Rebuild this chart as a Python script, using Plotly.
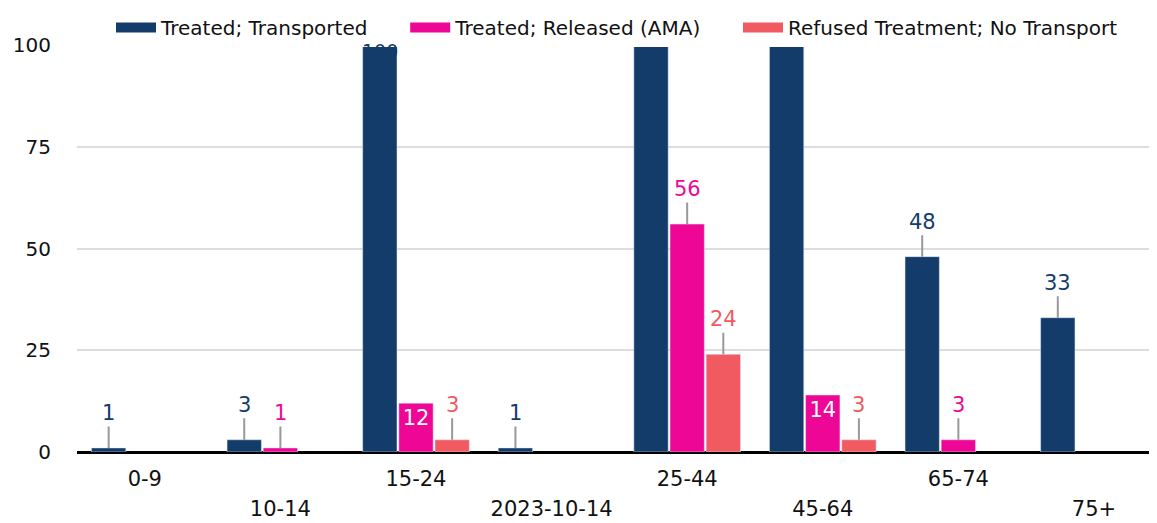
import plotly.graph_objects as go

categories = ["0-9", "10-14", "15-24", "2023-10-14", "25-44", "45-64", "65-74", "75+"]
transported = [1, 3, 104, 1, 180, 130, 48, 33]
released = [None, 1, 12, None, 56, 14, 3, None]
refused = [None, None, 3, None, 24, 3, None, None]
series_names = ["Treated; Transported", "Treated; Released (AMA)", "Refused Treatment; No Transport"]
colors = ["#133C6B", "#EE0797", "#F15A60"]
inside_labels = {("Treated; Released (AMA)", "15-24"), ("Treated; Released (AMA)", "45-64")}
y_ticks = [0, 25, 50, 75, 100]

FONT = "DejaVu Sans"
LBL = 21
NB = "\u00a0"
fig = go.Figure()
series = [transported, released, refused]
for idx, (name, vals, col) in enumerate(zip(series_names, series, colors)):
    txt = []
    for c, v in zip(categories, vals):
        txt.append(str(v) if (name, c) in inside_labels and v is not None else "")
    fig.add_bar(
        x=categories, y=vals, name=name, marker_color=col, showlegend=False,
        text=txt, textposition="inside", insidetextanchor="end",
        textfont=dict(color="white", size=LBL, family=FONT), cliponaxis=True,
    )
    legend_name = name + (NB * 5 if idx < len(series_names) - 1 else "")
    fig.add_scatter(x=[None], y=[None], mode="lines", name=legend_name,
                    line=dict(color=col, width=20), showlegend=True)

offsets = [-1, 0, 1]
annotations = []
for k, (name, vals, col) in enumerate(zip(series_names, series, colors)):
    for i, (c, v) in enumerate(zip(categories, vals)):
        if v is None or (name, c) in inside_labels:
            continue
        xpos = i + offsets[k] * 0.2666
        if v <= 100:
            annotations.append(dict(
                x=xpos, y=v, xref="x", yref="y", text=str(v), showarrow=True,
                arrowhead=0, arrowwidth=2, arrowcolor="#999999", ax=0, ay=-35,
                font=dict(color=col, size=LBL, family=FONT), standoff=0,
            ))
        elif v < 110:
            annotations.append(dict(
                x=xpos, y=100, xref="x", yref="y", text=str(100), showarrow=False,
                yanchor="top", yshift=7,
                font=dict(color=col, size=19, family=FONT),
            ))

even_cats = [c for i, c in enumerate(categories) if i % 2 == 0]
odd_cats = [c for i, c in enumerate(categories) if i % 2 == 1]
xrange_ = [-0.5, 7.465]

fig.update_layout(
    width=1149, height=515,
    margin=dict(l=69, r=0, t=37, b=71, autoexpand=False),
    plot_bgcolor="white", paper_bgcolor="white",
    barmode="group", bargap=0.2, bargroupgap=0.05,
    font=dict(family=FONT, size=20, color="#111111"),
    legend=dict(orientation="h", x=0.5, xanchor="center", yref="container",
                y=1.0, yanchor="top", font=dict(size=20), itemwidth=40,
                traceorder="normal"),
    annotations=annotations,
    xaxis=dict(type="category", categoryorder="array", categoryarray=categories,
               range=xrange_, tickmode="array", tickvals=even_cats, ticktext=even_cats,
               showgrid=False, ticks="", tickfont=dict(size=21), automargin=False,
               ticklabelstandoff=12),
    xaxis2=dict(type="category", categoryorder="array", categoryarray=categories,
                range=xrange_, overlaying="x", anchor="y", side="bottom",
                tickmode="array", tickvals=odd_cats, ticktext=odd_cats,
                showgrid=False, ticks="", tickfont=dict(size=21), automargin=False,
                ticklabelstandoff=42, showline=False, zeroline=False),
    yaxis=dict(range=[0, 100], tickvals=y_ticks, showgrid=True, gridcolor="#DDDDDD",
               gridwidth=2, zeroline=True, zerolinecolor="black", zerolinewidth=3,
               ticks="", tickfont=dict(size=20), automargin=False, ticklabelstandoff=25),
)
fig.add_scatter(x=categories, y=[None] * len(categories), xaxis="x2", yaxis="y",
                showlegend=False, hoverinfo="skip")

fig.write_html("out.html")
